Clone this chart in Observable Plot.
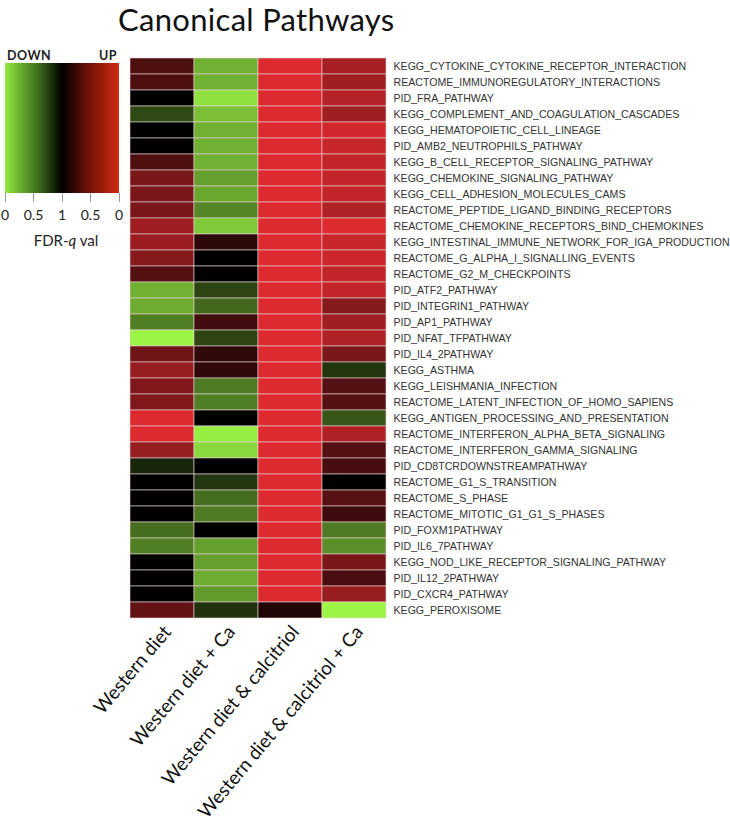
<!DOCTYPE html>
<html><head><meta charset="utf-8">
<script src="https://cdn.jsdelivr.net/npm/d3@7"></script>
<script src="https://cdn.jsdelivr.net/npm/@observablehq/plot@0.6"></script>
<style>
body{margin:0;background:#fff;}
#wrap{position:relative;width:730px;height:836px;overflow:hidden;}
#title{position:absolute;left:118px;top:0px;font:31px Lato, "Open Sans", sans-serif;line-height:normal;color:#111;white-space:nowrap;letter-spacing:0.3px;}
#legend{position:absolute;left:0;top:0;width:130px;height:260px;font-family:Lato, "Open Sans", sans-serif;color:#222;}
.lab{position:absolute;white-space:nowrap;}
#chart{position:absolute;left:0;top:0;}
</style></head><body>
<div id="wrap">
  <div id="chart"></div>
  <div id="title">Canonical Pathways</div>
  <div id="legend"></div>
</div>
<script>
const pathways = [
"KEGG_CYTOKINE_CYTOKINE_RECEPTOR_INTERACTION",
"REACTOME_IMMUNOREGULATORY_INTERACTIONS",
"PID_FRA_PATHWAY",
"KEGG_COMPLEMENT_AND_COAGULATION_CASCADES",
"KEGG_HEMATOPOIETIC_CELL_LINEAGE",
"PID_AMB2_NEUTROPHILS_PATHWAY",
"KEGG_B_CELL_RECEPTOR_SIGNALING_PATHWAY",
"KEGG_CHEMOKINE_SIGNALING_PATHWAY",
"KEGG_CELL_ADHESION_MOLECULES_CAMS",
"REACTOME_PEPTIDE_LIGAND_BINDING_RECEPTORS",
"REACTOME_CHEMOKINE_RECEPTORS_BIND_CHEMOKINES",
"KEGG_INTESTINAL_IMMUNE_NETWORK_FOR_IGA_PRODUCTION",
"REACTOME_G_ALPHA_I_SIGNALLING_EVENTS",
"REACTOME_G2_M_CHECKPOINTS",
"PID_ATF2_PATHWAY",
"PID_INTEGRIN1_PATHWAY",
"PID_AP1_PATHWAY",
"PID_NFAT_TFPATHWAY",
"PID_IL4_2PATHWAY",
"KEGG_ASTHMA",
"KEGG_LEISHMANIA_INFECTION",
"REACTOME_LATENT_INFECTION_OF_HOMO_SAPIENS",
"KEGG_ANTIGEN_PROCESSING_AND_PRESENTATION",
"REACTOME_INTERFERON_ALPHA_BETA_SIGNALING",
"REACTOME_INTERFERON_GAMMA_SIGNALING",
"PID_CD8TCRDOWNSTREAMPATHWAY",
"REACTOME_G1_S_TRANSITION",
"REACTOME_S_PHASE",
"REACTOME_MITOTIC_G1_G1_S_PHASES",
"PID_FOXM1PATHWAY",
"PID_IL6_7PATHWAY",
"KEGG_NOD_LIKE_RECEPTOR_SIGNALING_PATHWAY",
"PID_IL12_2PATHWAY",
"PID_CXCR4_PATHWAY",
"KEGG_PEROXISOME"
];
const conditions = ["Western diet","Western diet + Ca","Western diet & calcitriol","Western diet & calcitriol + Ca"];

// signed intensity: +1 = UP (FDR q = 0), 0 = FDR q = 1, -1 = DOWN (FDR q = 0)
const westernDiet = [0.35,0.35,0,-0.3,0,0,0.35,0.55,0.55,0.55,0.72,0.7,0.6,0.38,-0.72,-0.7,-0.52,-1,0.5,0.68,0.58,0.58,1,1,0.68,-0.15,0,0,0,-0.45,-0.52,0,0,0,0.45];
const westernDietCa = [-0.72,-0.72,-0.92,-0.78,-0.72,-0.72,-0.72,-0.65,-0.68,-0.55,-0.82,0.2,0,0,-0.28,-0.42,0.3,-0.28,0.22,0.22,-0.5,-0.52,0,-0.97,-0.88,0,-0.22,-0.45,-0.5,0,-0.65,-0.65,-0.7,-0.63,-0.2];
const westernDietCalcitriol = [1,1,1,1,1,1,1,1,1,1,1,1,1,1,1,1,1,1,1,1,1,1,1,1,1,1,1,1,1,1,1,1,1,1,0.15];
const westernDietCalcitriolCa = [0.75,0.72,0.82,0.72,0.95,0.9,0.88,0.88,0.88,0.8,1,0.9,0.92,0.88,0.88,0.6,0.72,0.8,0.55,-0.22,0.38,0.38,-0.35,0.8,0.38,0.32,0,0.4,0.28,-0.5,-0.58,0.55,0.33,0.68,-1];

const legendTicks = ["0","0.5","1","0.5","0"];

const series = [westernDiet, westernDietCa, westernDietCalcitriol, westernDietCalcitriolCa];
const data = [];
conditions.forEach((c, i) => pathways.forEach((p, j) => data.push({condition: c, pathway: p, value: series[i][j]})));

const chart = Plot.plot({
  width: 730,
  height: 836,
  marginLeft: 130,
  marginRight: 344,
  marginTop: 58,
  marginBottom: 218,
  x: {domain: conditions, padding: 0, axis: null},
  y: {domain: pathways, padding: 0, axis: null},
  color: {type: "linear", domain: [-1, 0, 1], range: ["#9cf545", "#000000", "#dd2a2f"], interpolate: "rgb"},
  marks: [
    Plot.cell(data, {x: "condition", y: "pathway", fill: "value", stroke: "#e9d3d3", strokeWidth: 0.6}),
    Plot.axisY({anchor: "right", tickSize: 0, tickPadding: 7, fontSize: 10.6, fontFamily: "Liberation Sans, Arial, sans-serif", fill: "#333", label: null, lineWidth: 1000, textOverflow: null}),
    Plot.axisX({anchor: "bottom", tickSize: 0, tickRotate: -50, tickPadding: 10, dx: 5, fontSize: 19, fontFamily: "Lato, 'Open Sans', sans-serif", fill: "#111", label: null})
  ]
});
document.getElementById("chart").appendChild(chart);

// legend
const lg = document.getElementById("legend");
function lab(text, css, html) {
  const d = document.createElement("div");
  d.className = "lab";
  if (html) d.innerHTML = text; else d.textContent = text;
  Object.assign(d.style, css);
  lg.appendChild(d);
  return d;
}
lab("DOWN", {left: "7px", top: "49px", font: "bold 12.5px Lato, sans-serif", letterSpacing: "0.5px", lineHeight: "13px"});
lab("UP", {left: "99px", top: "49px", font: "bold 12.5px Lato, sans-serif", letterSpacing: "0.5px", lineHeight: "13px"});
const bar = document.createElement("div");
Object.assign(bar.style, {position: "absolute", left: "5px", top: "63px", width: "114px", height: "130px",
  background: "linear-gradient(to right, #90e83f 0%, #3a6a1a 30%, #000000 50%, #6a1005 72%, #d02a10 100%)"});
lg.appendChild(bar);
const tickX = [5, 33.5, 62, 90.5, 119];
legendTicks.forEach((t, i) => {
  const tk = document.createElement("div");
  Object.assign(tk.style, {position: "absolute", left: (tickX[i] - 0.5) + "px", top: "193px", width: "1px", height: "9px", background: "#999"});
  lg.appendChild(tk);
  lab(t, {left: tickX[i] + "px", top: "205px", font: "14px Lato, sans-serif", transform: "translateX(-50%)", lineHeight: "20px"});
});
lab("FDR-<i>q</i> val", {left: "66px", top: "230px", font: "15px Lato, sans-serif", transform: "translateX(-50%)", lineHeight: "20px"}, true);
</script>
</body></html>
